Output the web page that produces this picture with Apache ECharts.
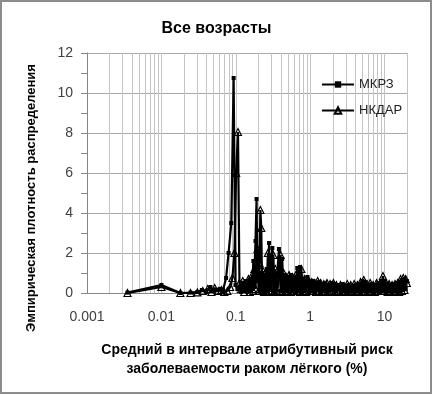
<!DOCTYPE html>
<html>
<head>
<meta charset="utf-8">
<script src="https://cdn.jsdelivr.net/npm/echarts@6/dist/echarts.min.js"></script>
<style>
  html, body { margin: 0; padding: 0; background: #fff; }
  #main { width: 433px; height: 395px; }
</style>
</head>
<body>
<div id="main"></div>
<script>
// подписи оси X (логарифмическая шкала)
var tickLabels = ['0.001', '0.01', '0.1', '1', '10'];

// МКРЗ: начальный участок (до 0.11)
var mkrzLowX = [0.0035, 0.01, 0.018, 0.0246, 0.0305, 0.035, 0.04, 0.0456, 0.05, 0.055, 0.062, 0.067, 0.074, 0.08, 0.087, 0.0935, 0.099, 0.105];
var mkrzLowY = [0.02, 0.4, 0, 0.02, 0.05, 0.15, 0.05, 0.3, 0.1, 0.15, 0.2, 0.1, 0.75, 2.0, 3.5, 10.75, 0.4, 0.2];

// НКДАР: начальный участок (до 0.11)
var nkdarLowX = [0.0035, 0.01, 0.018, 0.0246, 0.0305, 0.036, 0.042, 0.047, 0.052, 0.058, 0.064, 0.07, 0.077, 0.084, 0.09, 0.096, 0.101, 0.107];
var nkdarLowY = [0, 0.3, 0, 0, 0.03, 0.1, 0.2, 0.05, 0.25, 0.1, 0.15, 0.05, 0.1, 0.3, 0.75, 2.0, 6.0, 8.05];

// общий хвост (0.11 .. 20)
var tailX = [
    0.112, 0.118, 0.124, 0.13, 0.136, 0.142, 0.148, 0.154, 0.16, 0.166,
    0.172, 0.178, 0.184, 0.19, 0.196, 0.202, 0.208, 0.214, 0.22, 0.226,
    0.232, 0.24, 0.25, 0.26, 0.27, 0.28, 0.29, 0.3, 0.31, 0.32,
    0.33, 0.34, 0.36, 0.38, 0.4, 0.42, 0.44, 0.46, 0.48, 0.5,
    0.52, 0.55, 0.58, 0.61, 0.64, 0.67, 0.7, 0.73, 0.76, 0.8,
    0.84, 0.88, 0.92, 0.96, 1.0,
    1.05, 1.1, 1.15, 1.2, 1.26, 1.32, 1.38, 1.45, 1.52, 1.6,
    1.68, 1.76, 1.85, 1.95, 2.05, 2.15, 2.25, 2.4, 2.55, 2.7,
    2.85, 3.0, 3.15, 3.3, 3.5, 3.7, 3.9, 4.1, 4.3, 4.5,
    4.75, 5.0, 5.25, 5.5, 5.8, 6.1, 6.4, 6.7, 7.0, 7.4,
    7.8, 8.2, 8.6, 9.0, 9.5, 10, 10.5, 11, 11.5, 12,
    12.6, 13.2, 13.8, 14.4, 15, 15.7, 16.4, 17.1, 17.8, 18.5,
    19.2, 19.9
];
var mkrzTailY = [
    0.3, 0.05, 0.5, 0.1, 0.6, 0.05, 0.4, 0.1, 0.7, 0.2,
    1.6, 1.1, 2.6, 4.7, 0.6, 1.3, 0.1, 0.8, 0.05, 1.0,
    0.1, 0.9, 0.05, 1.2, 0.1, 2.5, 0.2, 1.5, 2.25, 0.1,
    1.0, 0.05, 0.9, 2.2, 0.1, 1.7, 0.05, 0.9, 0.1, 0.8,
    0.05, 0.9, 0.1, 0.7, 0.05, 1.25, 0.1, 1.3, 0.05, 0.7,
    0.1, 0.6, 0.8, 0.05, 0.6,
    0.1, 0.6, 0.05, 0.5, 0.15, 0.55, 0.05, 0.45, 0.1, 0.5,
    0.05, 0.4, 0.15, 0.5, 0.05, 0.45, 0.1, 0.4, 0.05, 0.45,
    0.1, 0.35, 0.05, 0.4, 0.1, 0.35, 0.05, 0.4, 0.1, 0.45,
    0.05, 0.6, 0.1, 0.55, 0.05, 0.4, 0.1, 0.45, 0.05, 0.4,
    0.1, 0.5, 0.05, 0.55, 0.1, 0.6, 0.05, 0.45, 0.1, 0.4,
    0.05, 0.45, 0.1, 0.4, 0.05, 0.55, 0.1, 0.65, 0.15, 0.7,
    0.2, 0.6
];
var nkdarTailY = [
    0.5, 0.2, 0.6, 0.05, 0.4, 0.3, 0.7, 0.05, 0.5, 0.9,
    0.1, 1.2, 0.2, 1.4, 2.2, 0.1, 1.5, 4.15, 3.25, 0.1,
    1.1, 0.05, 1.0, 0.1, 2.0, 0.1, 1.4, 0.05, 0.9, 1.9,
    0.1, 1.2, 0.05, 0.8, 1.9, 0.1, 1.0, 0.05, 0.8, 0.1,
    0.9, 0.05, 0.8, 0.1, 0.9, 0.1, 1.0, 0.05, 1.2, 0.1,
    0.7, 0.05, 0.5, 0.6, 0.1,
    0.55, 0.1, 0.5, 0.05, 0.6, 0.1, 0.5, 0.05, 0.45, 0.1,
    0.5, 0.05, 0.45, 0.1, 0.5, 0.05, 0.4, 0.1, 0.4, 0.05,
    0.35, 0.1, 0.45, 0.05, 0.4, 0.1, 0.45, 0.05, 0.4, 0.1,
    0.55, 0.05, 0.65, 0.1, 0.45, 0.05, 0.5, 0.1, 0.4, 0.05,
    0.5, 0.1, 0.45, 0.1, 0.85, 0.1, 0.5, 0.05, 0.45, 0.1,
    0.4, 0.05, 0.45, 0.1, 0.5, 0.05, 0.7, 0.1, 0.75, 0.15,
    0.7, 0.5
];

function pairs(xs, ys) {
    return xs.map(function (x, i) { return [x, ys[i]]; });
}

var mkrzData = pairs(mkrzLowX.concat(tailX), mkrzLowY.concat(mkrzTailY));
var nkdarData = pairs(nkdarLowX.concat(tailX), nkdarLowY.concat(nkdarTailY));

// промежуточные линии сетки (2..9 в каждой декаде)
var minorLines = [];
for (var d = -3; d <= 1; d++) {
    for (var k = 2; k <= 9; k++) {
        var v = k * Math.pow(10, d);
        if (v < 20) minorLines.push([v, 0]);
    }
}

var chart = echarts.init(document.getElementById('main'));
var font = '"Liberation Sans", Arial, sans-serif';

var option = {
    animation: false,
    textStyle: { fontFamily: font },
    title: {
        text: 'Все возрасты',
        left: 'center',
        top: 16,
        textStyle: { fontSize: 16, fontWeight: 'bold', color: '#000', fontFamily: font }
    },
    legend: {
        orient: 'vertical',
        left: 316,
        top: 73,
        itemWidth: 32,
        itemHeight: 8,
        itemGap: 13,
        textStyle: { fontSize: 13, color: '#222', fontFamily: font },
        data: ['МКРЗ', 'НКДАР']
    },
    grid: { left: 87, right: 26, top: 53, bottom: 102 },
    xAxis: {
        type: 'log',
        logBase: 10,
        min: 0.001,
        max: 20,
        name: 'Средний в интервале атрибутивный риск\nзаболеваемости раком лёгкого (%)',
        nameLocation: 'middle',
        nameGap: 48,
        nameTextStyle: { fontSize: 14, fontWeight: 'bold', color: '#000', lineHeight: 19, fontFamily: font },
        axisLine: { lineStyle: { color: '#868686' } },
        axisTick: { show: false },
        axisLabel: {
            margin: 17,
            fontSize: 14,
            color: '#404040',
            formatter: function (val) {
                var lg = Math.log10(val);
                var e = Math.round(lg);
                if (Math.abs(lg - e) > 1e-6) return '';
                return tickLabels[e + 3] || '';
            }
        },
        splitLine: { show: true, lineStyle: { color: '#c4c4c4', width: 1 } }
    },
    yAxis: {
        type: 'value',
        min: 0,
        max: 12,
        interval: 2,
        axisLine: { show: true, lineStyle: { color: '#868686' } },
        axisTick: { show: true, length: 6, lineStyle: { color: '#868686' } },
        minorTick: { show: true, splitNumber: 2, length: 6, lineStyle: { color: '#868686' } },
        axisLabel: { fontSize: 14, color: '#404040', margin: 14 },
        splitLine: { show: true, lineStyle: { color: '#a8a8a8', width: 1 } }
    },
    graphic: [
        {
            type: 'rect',
            shape: { x: 1, y: 1, width: 430, height: 392 },
            style: { fill: 'none', stroke: '#8c8c8c', lineWidth: 2 },
            silent: true
        },
        {
            type: 'text',
            x: 31,
            y: 198,
            rotation: Math.PI / 2,
            style: {
                text: 'Эмпирическая плотность распределения',
                fontSize: 13,
                fontWeight: 'bold',
                fontFamily: font,
                fill: '#000',
                align: 'center',
                verticalAlign: 'middle'
            }
        }
    ],
    series: [
        {
            // промежуточная вертикальная сетка
            type: 'custom',
            silent: true,
            z: 1,
            data: minorLines,
            renderItem: function (params, api) {
                var p1 = api.coord([api.value(0), 0]);
                var p2 = api.coord([api.value(0), 12]);
                var x = Math.round(p1[0]) + 0.5;
                return {
                    type: 'line',
                    shape: { x1: x, y1: p1[1], x2: x, y2: p2[1] },
                    style: { stroke: '#c4c4c4', lineWidth: 1 }
                };
            }
        },
        {
            name: 'МКРЗ',
            type: 'line',
            data: mkrzData,
            z: 3,
            symbol: 'rect',
            symbolSize: 4,
            lineStyle: { color: '#000', width: 2.2 },
            itemStyle: { color: '#000' }
        },
        {
            name: 'НКДАР',
            type: 'line',
            data: nkdarData,
            z: 2,
            symbol: 'triangle',
            symbolSize: 7,
            lineStyle: { color: '#000', width: 2.2 },
            itemStyle: { color: 'rgba(255,255,255,0)', borderColor: '#000', borderWidth: 1.2 }
        }
    ]
};

chart.setOption(option);
</script>
</body>
</html>
